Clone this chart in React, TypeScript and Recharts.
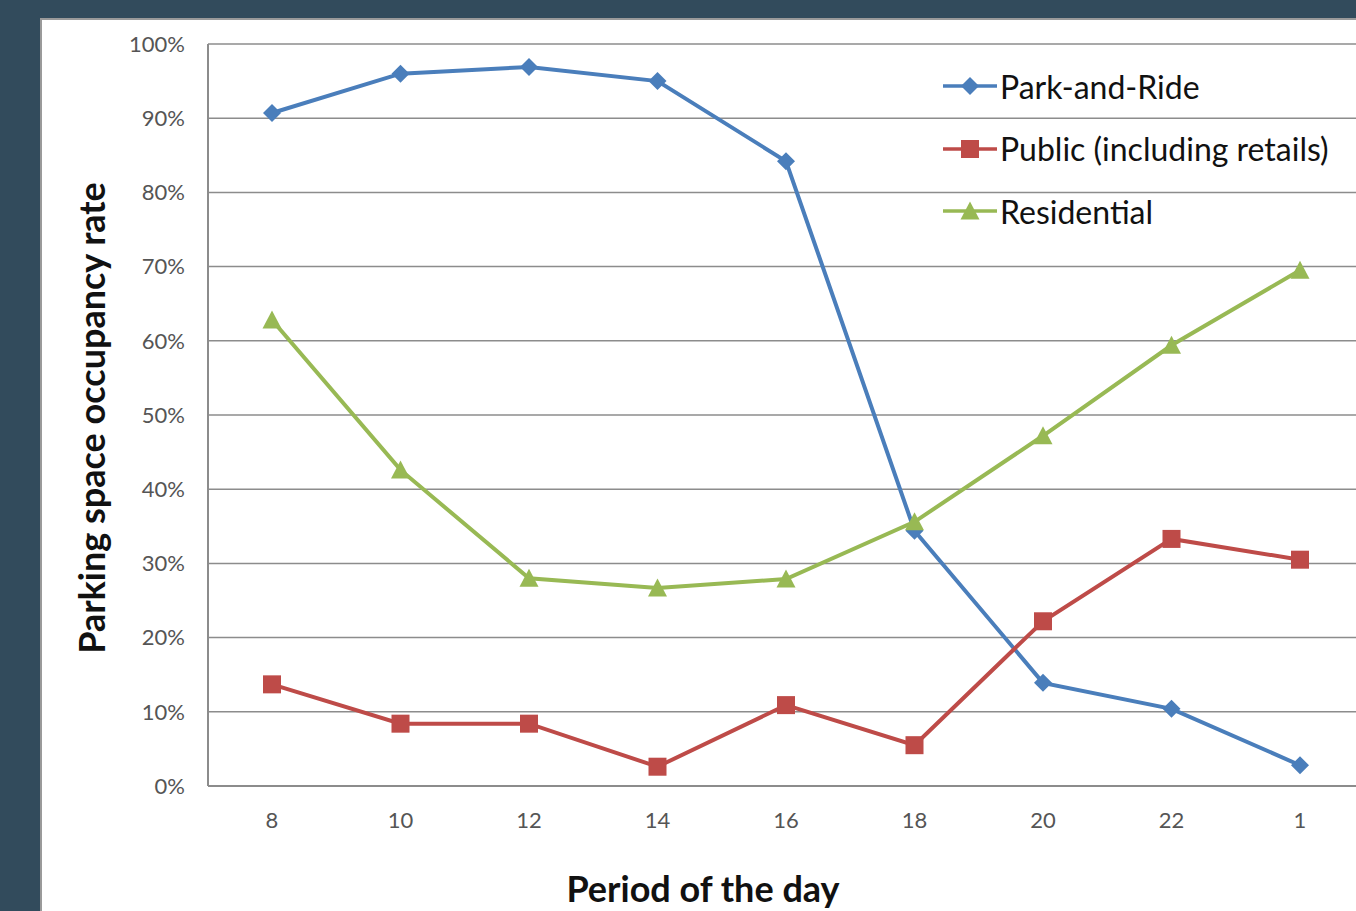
import React from "react";
import { LineChart, Line, XAxis, YAxis, CartesianGrid, Label } from "recharts";

const hours = ["8", "10", "12", "14", "16", "18", "20", "22", "1"];
const parkAndRide = [90.7, 96.0, 96.9, 95.0, 84.2, 34.4, 13.9, 10.4, 2.8];
const publicRetail = [13.7, 8.4, 8.4, 2.6, 10.9, 5.5, 22.2, 33.3, 30.5];
const residential = [62.8, 42.6, 28.0, 26.7, 27.9, 35.6, 47.2, 59.4, 69.5];
const yTicks = [0, 10, 20, 30, 40, 50, 60, 70, 80, 90, 100];

const BLUE = "#4a7ebb";
const RED = "#be4b48";
const GREEN = "#98b954";
const FONT = "Lato, 'Open Sans', sans-serif";

const data = hours.map((h, i) => ({
  hour: h,
  park: parkAndRide[i],
  pub: publicRetail[i],
  res: residential[i],
}));

const series = [
  { key: "park", name: "Park-and-Ride", color: BLUE, shape: "diamond" },
  { key: "pub", name: "Public (including retails)", color: RED, shape: "square" },
  { key: "res", name: "Residential", color: GREEN, shape: "triangle" },
];

function Marker({ cx, cy, shape, color }: any) {
  if (cx == null || cy == null) return null;
  if (shape === "diamond") {
    const r = 9;
    return (
      <path
        d={`M${cx},${cy - r}L${cx + r},${cy}L${cx},${cy + r}L${cx - r},${cy}Z`}
        fill={color}
      />
    );
  }
  if (shape === "square") {
    const r = 9;
    return <rect x={cx - r} y={cy - r} width={r * 2} height={r * 2} fill={color} />;
  }
  const r = 9.5;
  return (
    <path
      d={`M${cx},${cy - r}L${cx + r},${cy + r - 1}L${cx - r},${cy + r - 1}Z`}
      fill={color}
    />
  );
}

function makeDot(shape: string, color: string) {
  return (props: any) => (
    <Marker key={`${shape}-${props.index}`} cx={props.cx} cy={props.cy} shape={shape} color={color} />
  );
}

function LegendBox() {
  return (
    <div
      style={{
        position: "absolute",
        left: 943,
        top: 55,
        fontFamily: FONT,
        fontSize: 32,
        color: "#111",
      }}
    >
      {series.map((s) => (
        <div
          key={s.key}
          style={{ display: "flex", alignItems: "center", height: 62.5, whiteSpace: "nowrap" }}
        >
          <svg width={56} height={30} style={{ marginRight: 1 }}>
            <line x1={0} y1={15} x2={54} y2={15} stroke={s.color} strokeWidth={3.5} />
            <Marker cx={27} cy={15} shape={s.shape} color={s.color} />
          </svg>
          <span>{s.name}</span>
        </div>
      ))}
    </div>
  );
}

export default function App() {
  return (
    <div
      style={{
        position: "absolute",
        left: 0,
        top: 0,
        width: 1356,
        height: 911,
        overflow: "hidden",
        background: "#324b5c",
      }}
    >
      <div
        style={{
          position: "absolute",
          left: 40,
          top: 18,
          width: 1330,
          height: 893,
          background: "#fff",
          borderLeft: "2px solid #9a9a9a",
          borderTop: "2px solid #9a9a9a",
          boxSizing: "border-box",
        }}
      />
      <div style={{ position: "absolute", left: 40, top: 18 }}>
        <LineChart
          width={1330}
          height={893}
          data={data}
          margin={{ top: 26, right: 6, left: 0, bottom: 0 }}
        >
          <CartesianGrid vertical={false} stroke="#8c8c8c" strokeWidth={1.5} />
          <XAxis
            dataKey="hour"
            height={125}
            padding={{ left: 64, right: 64 }}
            stroke="#8c8c8c"
            strokeWidth={2}
            tickLine={false}
            tickSize={0}
            tickMargin={26}
            interval={0}
            tick={{ fill: "#555", fontSize: 22, fontFamily: FONT }}
          >
            <Label
              content={() => (
                <text
                  x={663}
                  y={870}
                  textAnchor="middle"
                  dominantBaseline="central"
                  fontFamily={FONT}
                  fontWeight="bold"
                  fontSize={36}
                  fill="#111"
                >
                  Period of the day
                </text>
              )}
            />
          </XAxis>
          <YAxis
            width={168}
            domain={[0, 100]}
            ticks={yTicks}
            interval={0}
            tickFormatter={(v: number) => `${v}%`}
            stroke="#8c8c8c"
            strokeWidth={2}
            tickLine={false}
            tickSize={0}
            tickMargin={23}
            tick={{ fill: "#555", fontSize: 22, fontFamily: FONT }}
          >
            <Label
              content={() => (
                <text
                  x={51}
                  y={400}
                  transform="rotate(-90 51 400)"
                  textAnchor="middle"
                  dominantBaseline="central"
                  fontFamily={FONT}
                  fontWeight="bold"
                  fontSize={36}
                  fill="#111"
                >
                  Parking space occupancy rate
                </text>
              )}
            />
          </YAxis>
          {series.map((s) => (
            <Line
              key={s.key}
              type="linear"
              dataKey={s.key}
              name={s.name}
              stroke={s.color}
              strokeWidth={4}
              dot={makeDot(s.shape, s.color)}
              activeDot={false}
              isAnimationActive={false}
            />
          ))}
        </LineChart>
      </div>
      <LegendBox />
    </div>
  );
}
